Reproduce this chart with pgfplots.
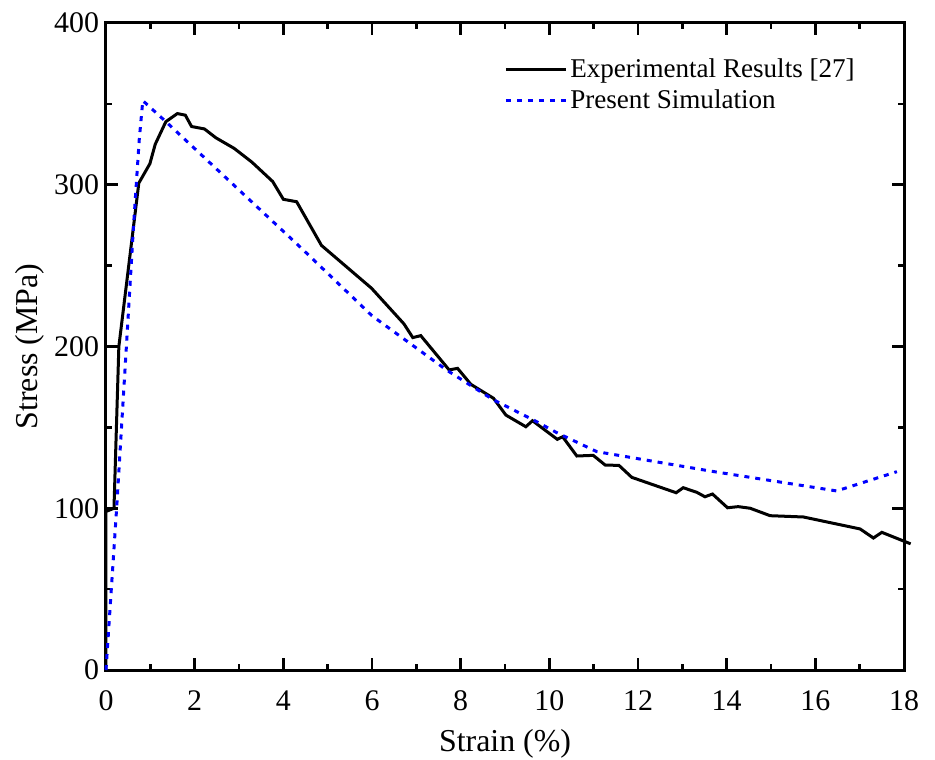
\documentclass[border=0pt]{standalone}
\usepackage{pgfplots}
\pgfplotsset{compat=1.18}
\usepackage{fontspec}
\setmainfont{Liberation Serif}
\begin{document}
\begin{tikzpicture}
\begin{axis}[
  name=ax,
  scale only axis,
  width=399bp, height=323.5bp,
  xmin=0, xmax=18, ymin=0, ymax=400,
  xtick={0,2,...,18}, ytick={0,100,...,400},
  minor x tick num=1, minor y tick num=1,
  tick align=inside,
  major tick length=6bp, minor tick length=3bp,
  axis line style={line width=1.5bp},
  every tick/.style={black, line width=1.3bp},
  tick label style={font=\fontsize{15}{17}\selectfont},
  xticklabel style={yshift=-7bp},
  /pgf/number format/assume math mode=true,
  label style={font=\fontsize{16}{19}\selectfont},
  xlabel={Strain (\%)},
  ylabel={Stress (MPa)},
  xlabel style={yshift=-2bp},
  ylabel style={yshift=-2bp},
  legend cell align=left,
  legend style={at={(0.95,0.956)}, anchor=north east, draw=none, fill=none,
    font=\fontsize{13.6}{16}\selectfont, row sep=1.5bp,
    nodes={inner sep=1.5bp}},
  legend image code/.code={\draw[#1] (0bp,0bp) -- (30bp,0bp);},
  clip=false,
]
\addplot[black, line width=1.5bp] coordinates {
(0,0) (0,98) (0.18,100) (0.29,200) (0.74,301) (0.99,313) (1.11,325) (1.35,339)
(1.61,344) (1.79,343) (1.93,336) (2.22,334.5) (2.48,329) (2.89,322.5)
(3.29,314) (3.76,302) (4.0,291) (4.30,289.5) (4.86,262.5) (5.99,236)
(6.72,214) (6.92,205.5) (7.10,206.7) (7.74,185.5) (7.93,186.5) (8.23,176.6)
(8.74,168) (9.02,157.6) (9.47,150.4) (9.62,154.1) (10.18,142.6) (10.30,144.2)
(10.62,132.3) (10.99,132.7) (11.26,126.7) (11.57,126.5) (11.86,119.1)
(12.86,109.6) (13.02,112.7) (13.33,109.8) (13.51,107.1) (13.68,108.8)
(14.02,100.3) (14.26,101) (14.53,100) (14.98,95.4) (15.73,94.6)
(17.01,87.2) (17.31,81.6) (17.50,85.1) (18.15,78)
};
\addlegendentry{Experimental Results [27]}
\addplot[blue, line width=1.5bp, dash pattern=on 2.5bp off 3bp] coordinates {
(0,0) (0.24,100) (0.46,200) (0.62,274) (0.75,328) (0.83,352)
(1.35,339) (4.41,260.7) (5.39,235) (6.0,219) (7.68,185.5) (8.21,176.2)
(8.74,167) (9.64,154.6) (10.17,146.7) (11.07,135) (13.63,123)
(16.48,110.7) (17.84,122.6)
};
\addlegendentry{Present Simulation}
\end{axis}
\pgfresetboundingbox
\path ([shift={(-53bp,-45bp)}]ax.south west) rectangle ([shift={(15.5bp,11.5bp)}]ax.north east);
\end{tikzpicture}
\end{document}
